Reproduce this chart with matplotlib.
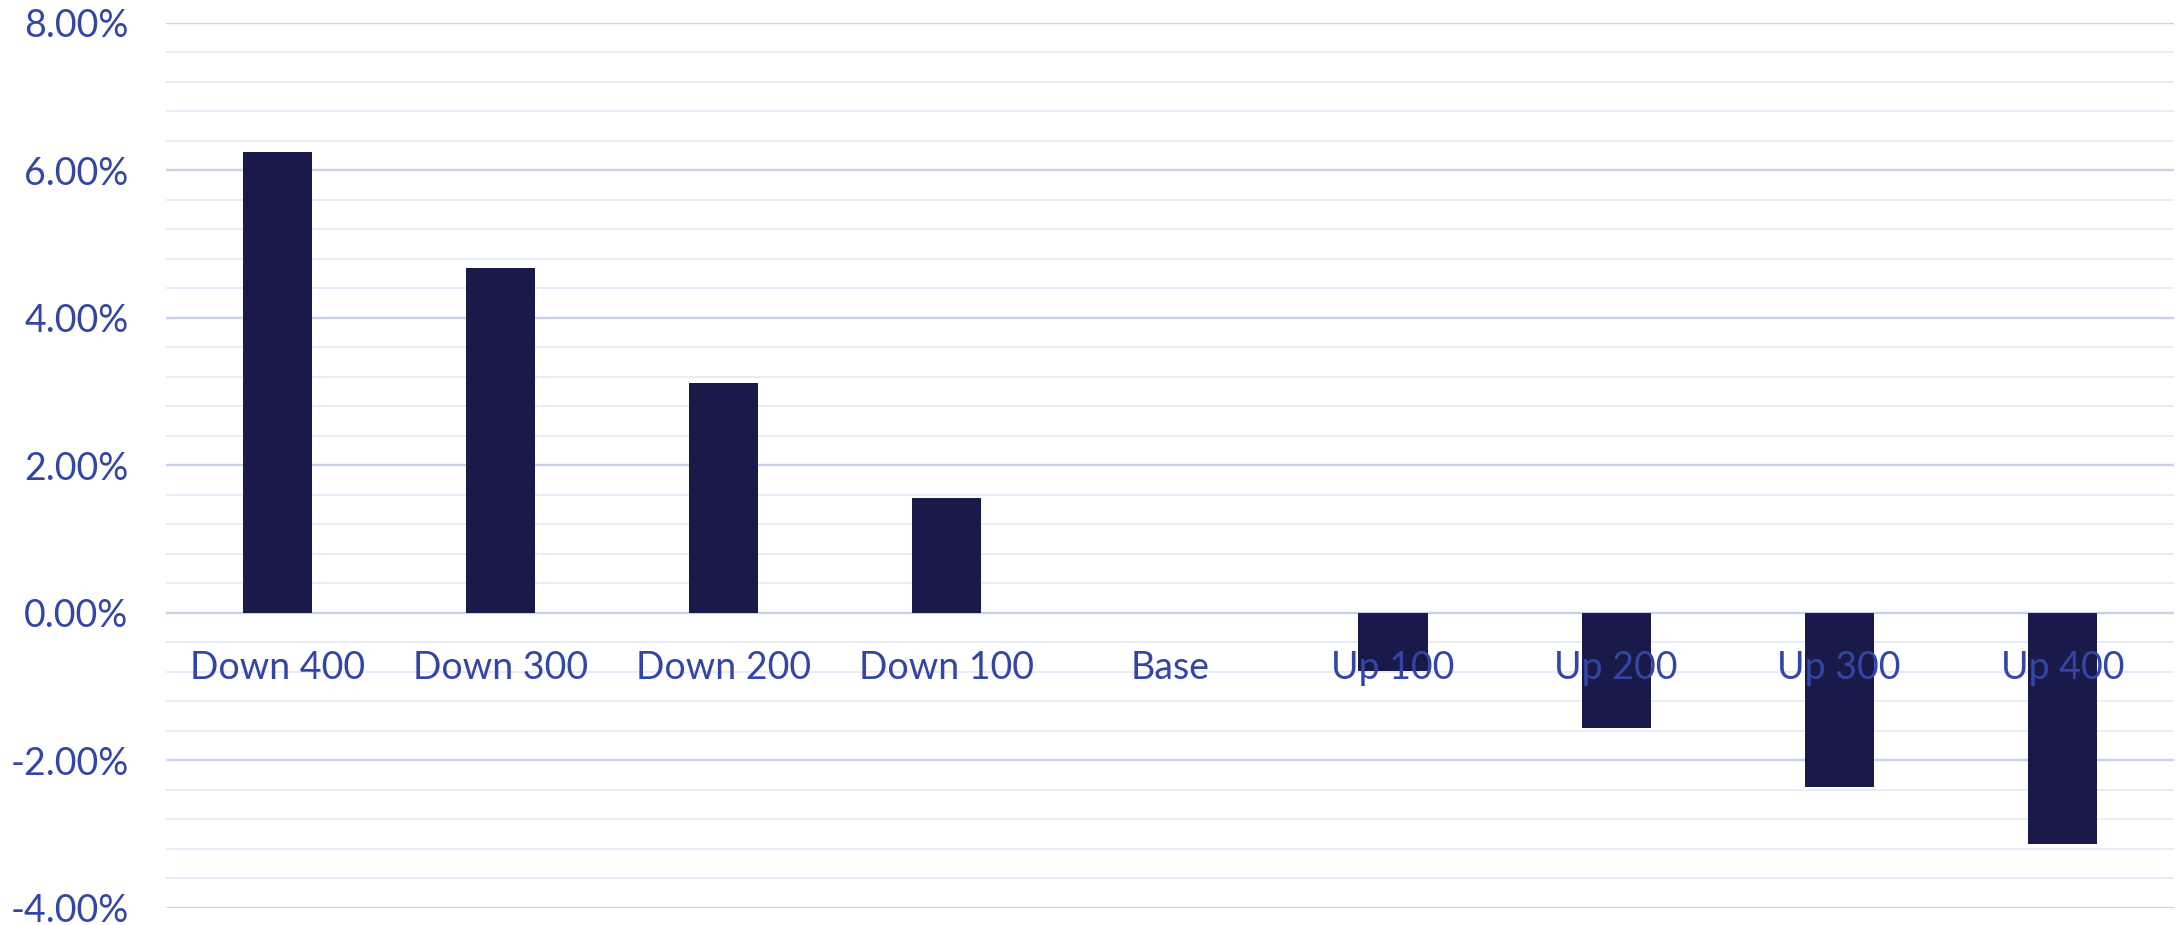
import matplotlib
matplotlib.use("Agg")
import matplotlib.pyplot as plt
from matplotlib.ticker import MultipleLocator, FuncFormatter

scenarios = ["Down 400", "Down 300", "Down 200", "Down 100", "Base",
             "Up 100", "Up 200", "Up 300", "Up 400"]
nii_change = [6.24, 4.68, 3.11, 1.55, 0.0, -0.79, -1.57, -2.36, -3.13]

BAR = "#191a4a"
TEXT = "#3346a6"
MAJOR_GRID = "#c8d0ee"
MINOR_GRID = "#e7ebf8"

plt.rcParams["font.family"] = ["Lato", "DejaVu Sans"]

fig = plt.figure(figsize=(21.76, 9.25), dpi=100)
ax = fig.add_axes([0.0763, 0.0187, 0.9227, 0.9568])

x = list(range(len(scenarios)))
ax.bar(x, nii_change, width=0.31, color=BAR, zorder=3)

ax.set_xlim(-0.5, len(scenarios) - 0.5)
ax.set_ylim(-4, 8)
ax.yaxis.set_major_locator(MultipleLocator(2))
ax.yaxis.set_minor_locator(MultipleLocator(0.4))
ax.yaxis.set_major_formatter(FuncFormatter(lambda v, _: f"{v:.2f}%"))

ax.grid(axis="y", which="major", color=MAJOR_GRID, linewidth=1.7, zorder=1)
ax.grid(axis="y", which="minor", color=MINOR_GRID, linewidth=1.3, zorder=1)
ax.set_axisbelow(True)

ax.tick_params(axis="y", which="both", length=0, pad=27, labelsize=27, labelcolor=TEXT)
ax.tick_params(axis="x", which="both", length=0, labelbottom=False)
for side in ["top", "right", "left", "bottom"]:
    ax.spines[side].set_visible(False)

# category labels sit just under the zero line, on top of the negative bars
for xi, name in zip(x, scenarios):
    ax.annotate(name, xy=(xi, 0), xytext=(0, -40), textcoords="offset points",
                ha="center", va="center", fontsize=27, color=TEXT, zorder=5)

fig.savefig("out.png", dpi=100)
